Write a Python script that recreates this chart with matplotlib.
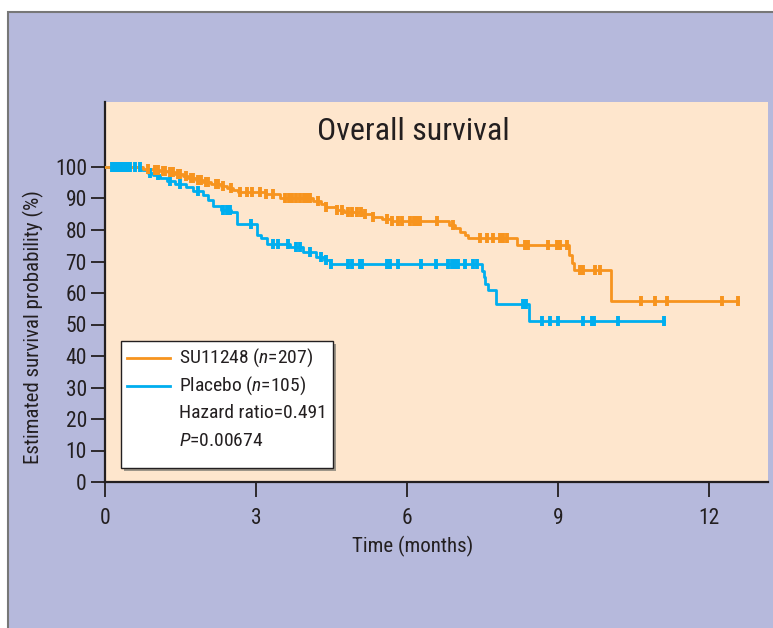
import matplotlib
matplotlib.use("Agg")
import matplotlib.pyplot as plt
from matplotlib import font_manager as fm
from matplotlib.patches import Rectangle

# ---- data (months, survival %) ----
su_times = [0, 0.76, 0.95, 1.1, 1.25, 1.4, 1.55, 1.65, 1.8, 1.95, 2.1, 2.3, 2.42, 2.55, 2.65,
            3.2, 3.48, 4.13, 4.3, 4.4, 4.6, 4.75, 5.1, 5.33, 5.5, 5.7, 6.83, 6.95, 7.05, 7.15,
            7.22, 8.18, 9.22, 9.27, 9.32, 10.05, 12.58]
su_surv = [100, 99.5, 99.2, 98.8, 98.4, 97.8, 97.2, 96.6, 96.0, 95.2, 94.6, 94.0, 93.4, 92.6, 92.0,
           91.4, 90.0, 89.2, 88.3, 87.3, 86.3, 85.7, 85.0, 84.2, 83.6, 82.8, 81.6, 80.5, 79.5, 78.3,
           77.5, 75.2, 72.0, 69.5, 67.3, 57.5, 57.5]
su_censor = [0.85, 1.0, 1.05, 1.15, 1.2, 1.3, 1.35, 1.45, 1.5, 1.6, 1.7, 1.75, 1.85, 1.9, 2.0,
             2.05, 2.2, 2.25, 2.35, 2.5, 2.68, 2.82, 2.92, 3.08, 3.2, 3.34, 3.58, 3.65, 3.72,
             3.8, 3.88, 3.95, 4.02, 4.07, 4.23, 4.4, 4.6, 4.7, 4.83, 4.9, 5.0, 5.08, 5.17,
             5.33, 5.6, 5.7, 5.83, 5.9, 6.06, 6.13, 6.2, 6.26, 6.6, 6.92, 7.45, 7.59, 7.71,
             7.85, 7.91, 7.98, 8.35, 8.4, 8.8, 8.98, 9.04, 9.18, 9.44, 9.5, 9.74, 9.84,
             10.65, 10.93, 11.17, 12.26, 12.58]

pl_times = [0, 0.73, 0.85, 0.95, 1.1, 1.23, 1.4, 1.6, 1.75, 1.95, 2.05, 2.15, 2.3, 2.5, 2.62,
            3.02, 3.1, 3.22, 3.68, 3.94, 4.2, 4.35, 4.47, 7.5, 7.53, 7.56, 7.6, 7.77, 8.43, 11.1]
pl_surv = [100, 99.2, 98.2, 97.5, 96.5, 95.5, 94.6, 93.5, 92.3, 91.1, 89.5, 87.5, 86.5, 85.7, 82.0,
           78.5, 77.5, 75.7, 74.6, 73.0, 71.5, 70.5, 69.2, 67.0, 65.0, 63.0, 61.0, 56.5, 51.1, 51.1]
pl_censor = [0.14, 0.2, 0.25, 0.3, 0.35, 0.4, 0.45, 0.5, 0.6, 0.7, 0.9, 1.05, 1.3, 1.5, 1.85,
             2.35, 2.42, 2.48, 2.9, 3.34, 3.44, 3.64, 3.8, 3.88, 4.07, 4.3, 4.4, 4.5, 4.83,
             4.9, 5.07, 5.1, 5.6, 5.66, 5.83, 6.28, 6.58, 6.82, 6.9, 6.96, 7.02, 7.15, 7.31,
             7.39, 8.3, 8.37, 8.68, 8.84, 9.0, 9.5, 9.68, 9.72, 10.2, 11.1]

x_ticks = [0, 3, 6, 9, 12]
y_ticks = list(range(0, 101, 10))
legend_lines = ["SU11248 ($n$=207)", "Placebo ($n$=105)", "Hazard ratio=0.491", "$P$=0.00674"]

ORANGE = "#F7941E"
BLUE = "#00AEEF"
PEACH = "#FEE6CD"
LAVENDER = "#B6B9DC"
INK = "#231F20"

# narrow face to stand in for the condensed original
names = {f.name for f in fm.fontManager.ttflist}
FAM = "Roboto Condensed" if "Roboto Condensed" in names else "DejaVu Sans"
plt.rcParams["font.family"] = FAM
plt.rcParams["font.stretch"] = "condensed"
plt.rcParams["mathtext.fontset"] = "custom"
plt.rcParams["mathtext.rm"] = FAM
plt.rcParams["mathtext.it"] = FAM + ":italic"


def step_at(times, surv, t):
    val = surv[0]
    for ti, si in zip(times, surv):
        if ti <= t:
            val = si
    return val


fig = plt.figure(figsize=(7.73, 6.28), dpi=100)
fig.patch.set_facecolor("white")
bg = Rectangle((8 / 773, -0.01), 1, 1.01 - 12 / 628, transform=fig.transFigure,
               facecolor=LAVENDER, edgecolor="#777777", lw=1.5, zorder=-5)
fig.patches.append(bg)

ax = fig.add_axes([105 / 773, 1 - 482 / 628, 663 / 773, 380 / 628])
ax.set_facecolor(PEACH)
ax.set_xlim(0, 663 / 50.33)
ax.set_ylim(0, 380 / 3.15)

for times, surv, cens, col in [(pl_times, pl_surv, pl_censor, BLUE),
                               (su_times, su_surv, su_censor, ORANGE)]:
    ax.step(times, surv, where="post", color=col, lw=2.0, zorder=3)
    ax.plot(cens, [step_at(times, surv, c) for c in cens], ls="none", marker="|",
            ms=7, mew=2.8, color=col, zorder=4)

for s in ["top", "right"]:
    ax.spines[s].set_visible(False)
for s in ["left", "bottom"]:
    ax.spines[s].set_color(INK)
    ax.spines[s].set_linewidth(1.6)
ax.set_xticks(x_ticks)
ax.set_yticks(y_ticks)
ax.tick_params(axis="both", direction="out", color=INK, labelcolor=INK, width=1.3,
               labelsize=15.5)
ax.tick_params(axis="x", length=11, pad=8)
ax.tick_params(axis="y", length=10, pad=3)

ax.text(6.13, 111.4, "Overall survival", ha="center", va="center", fontsize=23, color=INK)
fig.text(413 / 773, 1 - 546 / 628, "Time (months)", ha="center", va="center",
         fontsize=15, color=INK)
fig.text(33 / 773, 1 - 327 / 628, "Estimated survival probability (%)", rotation=90,
         ha="center", va="center", fontsize=15, color=INK)

# legend box with drop shadow
x0, y0 = 121 / 773, 1 - 468 / 628
w, h = 212 / 773, 127 / 628
fig.patches.append(Rectangle((x0 + 3 / 773, y0 - 3 / 628), w, h, transform=fig.transFigure,
                             facecolor="#9E9689", edgecolor="none", zorder=5))
fig.patches.append(Rectangle((x0, y0), w, h, transform=fig.transFigure,
                             facecolor="white", edgecolor=INK, lw=1.0, zorder=6))
rows = [358, 386, 413, 441]
for i, (txt, py) in enumerate(zip(legend_lines, rows)):
    yy = 1 - py / 628
    if i < 2:
        col = ORANGE if i == 0 else BLUE
        fig.add_artist(plt.Line2D([127 / 773, 170 / 773], [yy, yy], color=col, lw=2,
                                  transform=fig.transFigure, zorder=7))
    fig.text(179 / 773, yy, txt, ha="left", va="center", fontsize=14, color=INK, zorder=8)

fig.savefig("out.png", dpi=100)
